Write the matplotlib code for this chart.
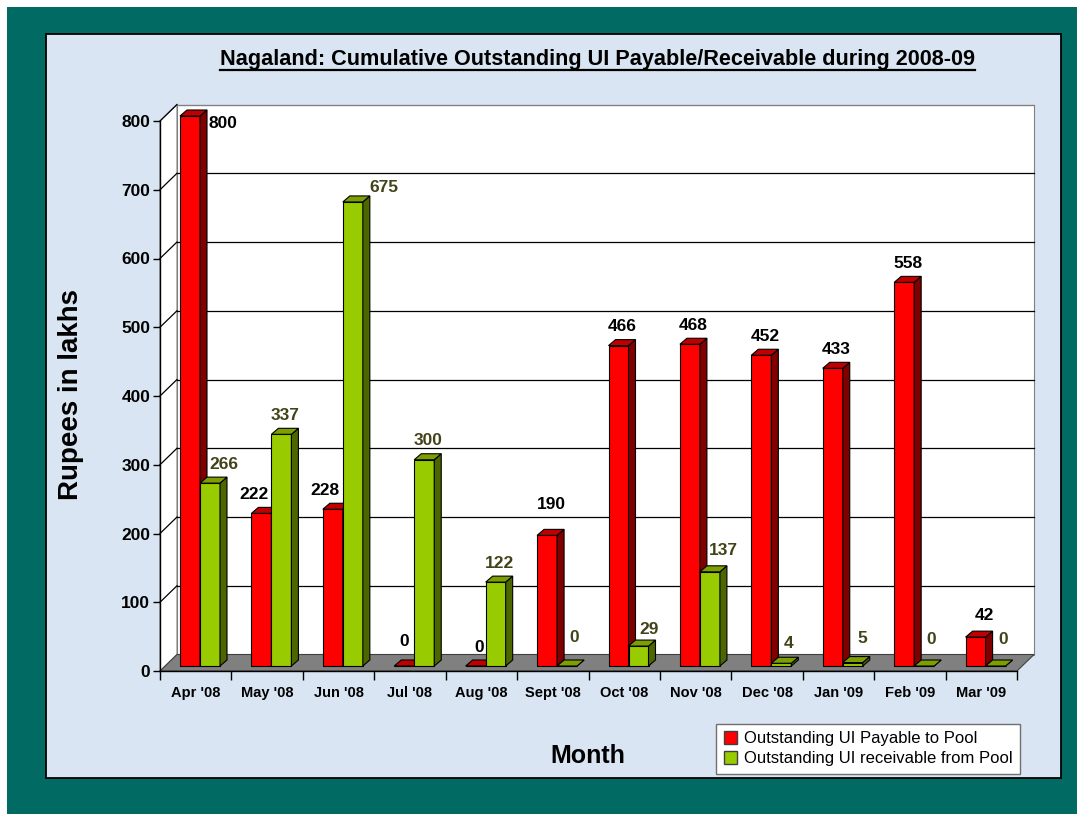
import matplotlib
matplotlib.use('Agg')
import matplotlib.pyplot as plt
from matplotlib.patches import Rectangle, Polygon, Patch
from matplotlib.lines import Line2D

months = ["Apr '08", "May '08", "Jun '08", "Jul '08", "Aug '08", "Sept '08",
          "Oct '08", "Nov '08", "Dec '08", "Jan '09", "Feb '09", "Mar '09"]
payable = [800, 222, 228, 0, 0, 190, 466, 468, 452, 433, 558, 42]
receivable = [266, 337, 675, 300, 122, 0, 29, 137, 4, 5, 0, 0]
y_ticks = list(range(0, 801, 100))

title = "Nagaland: Cumulative Outstanding UI Payable/Receivable during 2008-09"
series_names = ["Outstanding UI Payable to Pool", "Outstanding UI receivable from Pool"]

plt.rcParams['font.family'] = ['Liberation Sans', 'DejaVu Sans']

W, H = 1077, 814
fig = plt.figure(figsize=(W / 100, H / 100), dpi=100)
fig.patch.set_facecolor('white')

# teal slide background and light blue chart panel
fig.add_artist(Rectangle((7 / W, 0), 1 - 7 / W, 1 - 7 / H, transform=fig.transFigure,
                         facecolor='#006A63', edgecolor='none', zorder=-2))
fig.add_artist(Rectangle((46 / W, 1 - 778 / H), (1061 - 46) / W, (778 - 34) / H,
                         transform=fig.transFigure, facecolor='#D9E5F2',
                         edgecolor='black', lw=1.3, zorder=-1))

n = len(months)
ax = fig.add_axes([160 / W, 1 - 671 / H, 857 / W, 550 / H])
ax.set_zorder(1)
ax.set_xlim(0, n)
ax.set_ylim(0, 800)
ax.patch.set_visible(False)

# pixel -> data units
ux = n / 857
uy = 800 / 550
DX, DY = 17 * ux, 16.5 * uy

# walls and floor
ax.add_patch(Polygon([(DX, DY), (n + DX, DY), (n + DX, 800 + DY), (DX, 800 + DY)],
                     closed=True, facecolor='white', edgecolor='#808080', lw=0.8,
                     clip_on=False, zorder=1))
ax.add_patch(Polygon([(0, 0), (DX, DY), (DX, 800 + DY), (0, 800)], closed=True,
                     facecolor='white', edgecolor='#808080', lw=0.8, clip_on=False, zorder=1))
for v in y_ticks[1:]:
    c = '#808080' if v == 800 else 'black'
    ax.plot([DX, n + DX], [v + DY, v + DY], color=c, lw=0.9, clip_on=False, zorder=1.5)
    ax.plot([0, DX], [v, v + DY], color='black', lw=0.9, clip_on=False, zorder=1.5)
ax.add_patch(Polygon([(0, 0), (n, 0), (n + DX, DY), (DX, DY)], closed=True,
                     facecolor='#808080', edgecolor='#404040', lw=0.8, clip_on=False, zorder=1.6))

# bars
bw = 20 * ux
bdx, bdy = 7 * ux, 6 * uy
base = 5 * uy
styles = [
    ('pay', payable, 20 * ux, ('#FF0000', '#C00000', '#800000'), 'black'),
    ('rec', receivable, 40 * ux, ('#99CC00', '#7E9F00', '#4C6600'), '#43431A'),
]
# label nudges in pixels (x, y) where Excel moved labels off the bar centre
nudge = {
    ('pay', 0): (29, -26), ('pay', 1): (-11, 0), ('pay', 2): (-11, 0),
    ('pay', 3): (-4, 6), ('pay', 5): (1, 12), ('pay', 11): (5, 3),
    ('rec', 0): (10, 0), ('rec', 2): (28, -5), ('rec', 5): (4, 9),
    ('rec', 6): (7, -2), ('rec', 7): (10, 2), ('rec', 8): (4, 1),
    ('rec', 9): (6, 5), ('rec', 10): (4, 7), ('rec', 11): (4, 7),
}

z = 2
for i in range(n):
    for key, vals, off, (front, top, side), lc in styles:
        v = vals[i]
        x0 = i + off
        ax.bar(x0, v, width=bw, bottom=base, align='edge', color=front,
               edgecolor='black', lw=0.8, zorder=z, clip_on=False)
        yt = base + v
        ax.add_patch(Polygon([(x0 + bw, base), (x0 + bw + bdx, base + bdy),
                              (x0 + bw + bdx, yt + bdy), (x0 + bw, yt)], closed=True,
                             facecolor=side, edgecolor='black', lw=0.8, zorder=z,
                             clip_on=False))
        ax.add_patch(Polygon([(x0, yt), (x0 + bw, yt), (x0 + bw + bdx, yt + bdy),
                              (x0 + bdx, yt + bdy)], closed=True,
                             facecolor=top, edgecolor='black', lw=0.8, zorder=z,
                             clip_on=False))
        z += 0.01
        nx, ny = nudge.get((key, i), (0, 0))
        ax.text(x0 + bw / 2 + bdx / 2 + nx * ux, yt + (19 + ny) * uy, str(v),
                ha='center', va='center', fontsize=12.5, fontweight='bold',
                color=lc, zorder=10, clip_on=False)

# axes and ticks
for s in ['top', 'right']:
    ax.spines[s].set_visible(False)
for s in ['left', 'bottom']:
    ax.spines[s].set_color('black')
    ax.spines[s].set_linewidth(1.0)
    ax.spines[s].set_zorder(5)
ax.set_yticks(y_ticks)
ax.set_yticklabels([str(v) for v in y_ticks], fontsize=12.5, fontweight='bold')
ax.tick_params(axis='y', direction='out', length=5, width=1, pad=2)
ax.set_xticks(range(n + 1))
ax.set_xticklabels([])
ax.set_xticks([i + 0.5 for i in range(n)], minor=True)
ax.set_xticklabels(months, minor=True, fontsize=10.5, fontweight='bold')
ax.tick_params(axis='x', which='major', direction='out', length=6.5, width=1)
ax.tick_params(axis='x', which='minor', length=0, pad=11)

# titles
t = fig.text(597 / W, 1 - 65 / H, title, ha='center', va='baseline', fontsize=15.6,
             fontweight='bold')
fig.text(71 / W, 1 - 395 / H, "Rupees in lakhs", rotation=90, ha='center', va='center',
         fontsize=20, fontweight='bold')
fig.text(588 / W, 1 - 763 / H, "Month", ha='center', va='baseline', fontsize=18,
         fontweight='bold')

# legend
handles = [Patch(facecolor='#FF0000', edgecolor='#404040'),
           Patch(facecolor='#99CC00', edgecolor='#404040')]
leg = fig.legend(handles, series_names, loc='lower right',
                 bbox_to_anchor=(1020 / W, 1 - 774 / H), bbox_transform=fig.transFigure,
                 frameon=True, fancybox=False, edgecolor='#707070', framealpha=1,
                 borderaxespad=0, handlelength=0.8, handleheight=0.8, handletextpad=0.4,
                 labelspacing=0.3, borderpad=0.45, prop={'size': 12})
leg.get_frame().set_linewidth(1.0)
leg.set_zorder(6)

# underline the title
fig.canvas.draw()
bb = t.get_window_extent()
fig.add_artist(Line2D([bb.x0 / W, bb.x1 / W], [1 - 70 / H, 1 - 70 / H],
                      transform=fig.transFigure, color='black', lw=1.6))

fig.savefig('out.png', dpi=100)
